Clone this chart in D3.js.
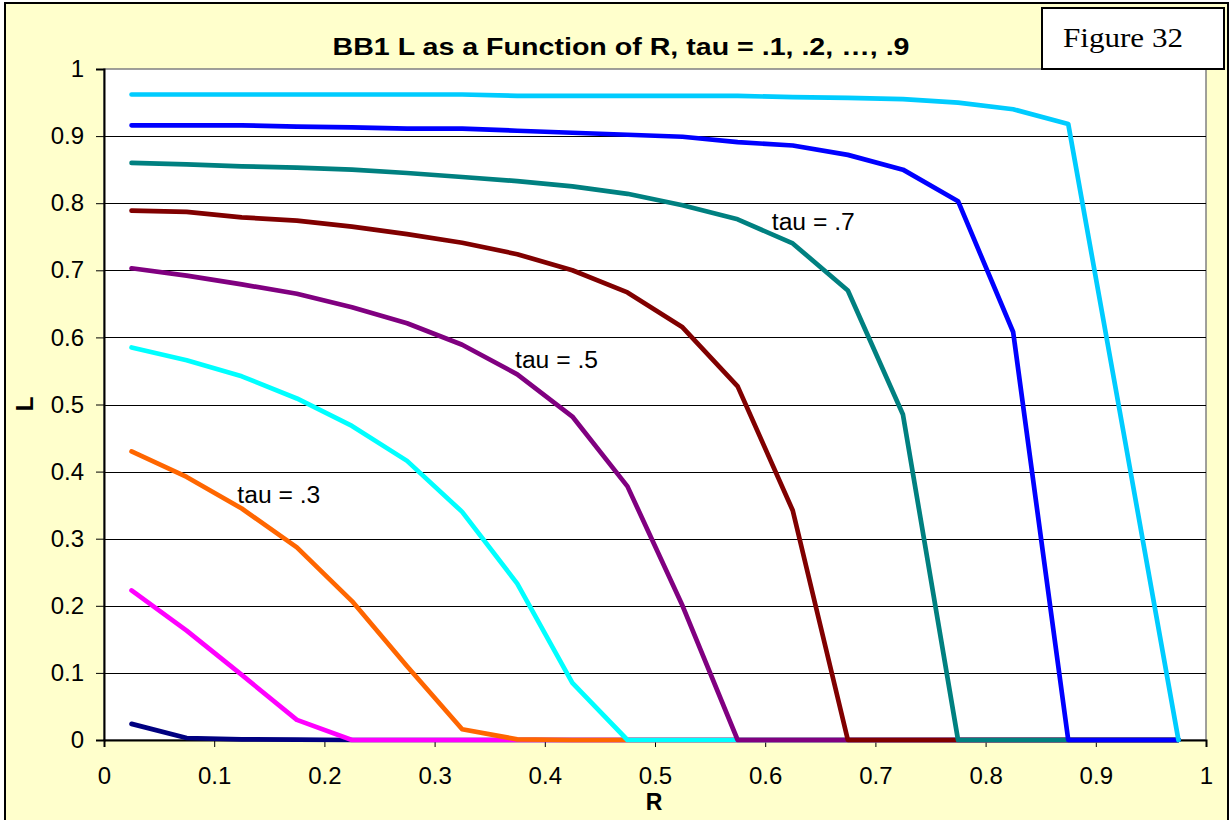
<!DOCTYPE html>
<html><head><meta charset="utf-8">
<script src="https://cdn.jsdelivr.net/npm/d3@7"></script>
<style>body{margin:0;background:#fff}svg{display:block}
.sans{font-family:'Liberation Sans', Arial, sans-serif}
</style>
</head><body>
<svg id="c" width="1231" height="820"></svg>
<script>
const R = [0.025,0.075,0.125,0.175,0.225,0.275,0.325,0.375,0.425,0.475,0.525,0.575,0.625,0.675,0.725,0.775,0.825,0.875,0.925,0.975];
const tau1 = [0.024,0.003,0.001,0.0005,0,0,0,0,0,0,0,0,0,0,0,0,0,0,0,0];
const tau2 = [0.223,0.163,0.097,0.03,0,0,0,0,0,0,0,0,0,0,0,0,0,0,0,0];
const tau3 = [0.43,0.392,0.345,0.287,0.207,0.11,0.016,0.001,0,0,0,0,0,0,0,0,0,0,0,0];
const tau4 = [0.585,0.566,0.542,0.509,0.468,0.416,0.34,0.233,0.085,0,0,0,0,0,0,0,0,0,0,0];
const tau5 = [0.703,0.692,0.679,0.665,0.645,0.621,0.589,0.545,0.482,0.378,0.2,0,0,0,0,0,0,0,0,0];
const tau6 = [0.789,0.787,0.779,0.774,0.765,0.754,0.741,0.724,0.7,0.667,0.615,0.527,0.342,0,0,0,0,0,0,0];
const tau7 = [0.86,0.858,0.855,0.853,0.85,0.845,0.839,0.833,0.825,0.814,0.797,0.776,0.74,0.67,0.485,0,0,0,0,0];
const tau8 = [0.916,0.916,0.916,0.914,0.913,0.911,0.911,0.908,0.905,0.902,0.899,0.891,0.886,0.872,0.85,0.803,0.608,0,0,0];
const tau9 = [0.962,0.962,0.962,0.962,0.962,0.962,0.962,0.96,0.96,0.96,0.96,0.96,0.958,0.957,0.955,0.95,0.94,0.918,0.46,0];
const seriesColors = ["#000080","#FF00FF","#FF6600","#00FFFF","#800080","#800000","#008080","#0000FF","#00CCFF"];
const xTicks = [0,0.1,0.2,0.3,0.4,0.5,0.6,0.7,0.8,0.9,1];
const yTicks = [0,0.1,0.2,0.3,0.4,0.5,0.6,0.7,0.8,0.9,1];
const labels = [{t:"tau = .3",x:0.121,y:0.365},{t:"tau = .5",x:0.373,y:0.567},{t:"tau = .7",x:0.606,y:0.772}];
const title = "BB1 L as a Function of R, tau = .1, .2, \u2026, .9";

const series = [tau1,tau2,tau3,tau4,tau5,tau6,tau7,tau8,tau9];
const svg = d3.select("#c");
const W=1231,H=820;
const m = {l:104,t:69,r:1206,b:740};

svg.append("rect").attr("x",0).attr("y",0).attr("width",W).attr("height",H).attr("fill","#fff");
svg.append("rect").attr("x",5).attr("y",3).attr("width",1223).attr("height",830)
  .attr("fill","#FFFFCC").attr("stroke","#000").attr("stroke-width",2);

const x = d3.scaleLinear().domain([0,1]).range([m.l,m.r]);
const y = d3.scaleLinear().domain([0,1]).range([m.b,m.t]);

svg.append("rect").attr("x",m.l).attr("y",m.t).attr("width",m.r-m.l).attr("height",m.b-m.t)
  .attr("fill","#fff").attr("stroke","#808080").attr("stroke-width",1.5);

// gridlines
svg.append("g").selectAll("line").data(yTicks.filter(d=>d>0&&d<1)).join("line")
  .attr("x1",m.l).attr("x2",m.r)
  .attr("y1",d=>Math.round(y(d))+0.5).attr("y2",d=>Math.round(y(d))+0.5)
  .attr("stroke","#000").attr("stroke-width",1);

const fmt = d=>String(+d.toFixed(1));
// axes
const yAxis = d3.axisLeft(y).tickValues(yTicks).tickFormat(fmt).tickSizeOuter(0).tickSize(8).tickPadding(12);
const gy = svg.append("g").attr("transform",`translate(${m.l},0)`).call(yAxis);
gy.select(".domain").attr("stroke","#000").attr("stroke-width",2);
gy.selectAll(".tick line").attr("stroke","#000");
gy.selectAll("text").attr("class","sans").style("font-size","24px").attr("fill","#000");

const xAxis = d3.axisBottom(x).tickValues(xTicks).tickFormat(fmt).tickSizeOuter(0).tickSize(7).tickPadding(20);
const gx = svg.append("g").attr("transform",`translate(0,${m.b})`).call(xAxis);
gx.select(".domain").attr("stroke","#000").attr("stroke-width",2);
gx.selectAll(".tick line").attr("stroke","#000");
gx.selectAll("text").attr("class","sans").style("font-size","24px").attr("fill","#000");
gy.attr("font-family",null); gx.attr("font-family",null);

// lines
const line = d3.line().x((d,i)=>x(R[i])).y(d=>y(d));
svg.append("g").selectAll("path").data(series).join("path")
  .attr("d",d=>line(d)).attr("fill","none")
  .attr("stroke",(d,i)=>seriesColors[i]).attr("stroke-width",4.7)
  .attr("stroke-linejoin","round").attr("stroke-linecap","round");

// annotations
svg.append("g").selectAll("text").data(labels).join("text")
  .attr("class","sans")
  .attr("x",d=>x(d.x)).attr("y",d=>y(d.y)).attr("dy","0.36em")
  .style("font-size","23px").attr("textLength",83).attr("lengthAdjust","spacingAndGlyphs").text(d=>d.t);

// title
svg.append("text").attr("class","sans").attr("x",621).attr("y",55).attr("text-anchor","middle")
  .style("font-weight","bold").style("font-size","23px")
  .attr("textLength",577).attr("lengthAdjust","spacingAndGlyphs").text(title);

// axis titles
svg.append("text").attr("class","sans").attr("x",654).attr("y",810).attr("text-anchor","middle")
  .style("font-weight","bold").style("font-size","23px").text("R");
svg.append("text").attr("class","sans").attr("transform","translate(33,404) rotate(-90)").attr("text-anchor","middle")
  .style("font-weight","bold").style("font-size","24px").text("L");

// figure box
svg.append("rect").attr("x",1042).attr("y",8).attr("width",182).attr("height",61)
  .attr("fill","#fff").attr("stroke","#000").attr("stroke-width",2);
svg.append("text").attr("x",1063).attr("y",47)
  .style("font-family","'Liberation Serif', 'DejaVu Serif', serif").style("font-size","28px")
  .attr("textLength",120).attr("lengthAdjust","spacingAndGlyphs").text("Figure 32");
</script>
</body></html>
